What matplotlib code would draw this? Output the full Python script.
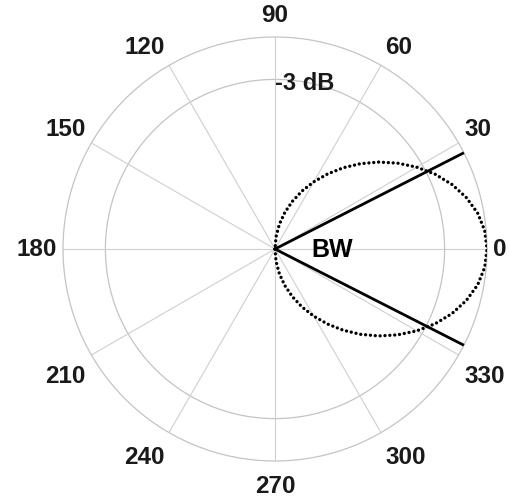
import numpy as np
import matplotlib
matplotlib.use("Agg")
import matplotlib.pyplot as plt

# beam pattern (normalized radius), every 5 degrees from 0 to 90
half_deg = [0, 5, 10, 15, 20, 25, 30, 35, 40, 45, 50, 55, 60, 65, 70, 75, 80, 85, 90]
half_r = [1.0, 0.993, 0.971, 0.935, 0.889, 0.834, 0.772, 0.706, 0.638, 0.569,
          0.500, 0.432, 0.366, 0.302, 0.239, 0.178, 0.118, 0.059, 0.0]

# symmetric pattern (-90 .. 90)
pattern_deg = [-d for d in half_deg[::-1]] + half_deg[1:]
pattern_r = half_r[::-1] + half_r[1:]

# beamwidth edges
bw_deg = [27, -27]
bw_r = 1.0

# -3 dB ring
ring_r = 0.8
angle_ticks = [0, 30, 60, 90, 120, 150, 180, 210, 240, 270, 300, 330]
angle_labels = [str(a) for a in angle_ticks]

plt.rcParams['font.family'] = ['Liberation Sans', 'DejaVu Sans']

fig = plt.figure(figsize=(5.10, 5.02), dpi=100)
ax = fig.add_axes([63/510, 40/502, 424/510, 424/502], projection='polar')
ax.set_ylim(0, 1)
ax.grid(False)
ax.set_xticks([])
ax.set_yticks([])
ax.spines['polar'].set_color('#c4c4c4')
ax.spines['polar'].set_linewidth(0.9)

gc = '#cfcfcf'
th = np.linspace(0, 2*np.pi, 400)
ax.plot(th, np.full_like(th, ring_r), color='#c4c4c4', lw=0.9, zorder=1)
for a in angle_ticks:
    ax.plot([0, np.deg2rad(a)], [0, 1], color=gc, lw=0.8, zorder=1)

ax.plot(np.deg2rad(pattern_deg), pattern_r, color='black', lw=2.4,
        linestyle=(0, (0.01, 1.45)), dash_capstyle='round', zorder=3)

for a in bw_deg:
    ax.plot([0, np.deg2rad(a)], [0, bw_r], color='black', lw=2.0, zorder=4)

for a, lab in zip(angle_ticks, angle_labels):
    t = np.deg2rad(a)
    c, s = np.cos(t), np.sin(t)
    ha = 'left' if c > 0.01 else ('right' if c < -0.01 else 'center')
    va = 'bottom' if s > 0.01 else ('top' if s < -0.01 else 'center')
    r = 1.05 - 0.02 * abs(c)
    if s < -0.01:
        dy = -5.5 if abs(c) > 0.01 else -2.0
    else:
        dy = 0.0
    ax.annotate(lab, xy=(t, r), xytext=(0, dy * 0.72), textcoords='offset points',
                ha=ha, va=va, fontsize=17.5, fontweight='bold',
                color='#1a1a1a', annotation_clip=False)

ax.text(np.pi/2, 0.785, '-3 dB', ha='left', va='center', fontsize=17,
        fontweight='bold', color='#1a1a1a')
ax.text(0, 0.27, 'BW', ha='center', va='center', fontsize=18,
        fontweight='bold', color='black')

fig.savefig('out.png', dpi=100)
